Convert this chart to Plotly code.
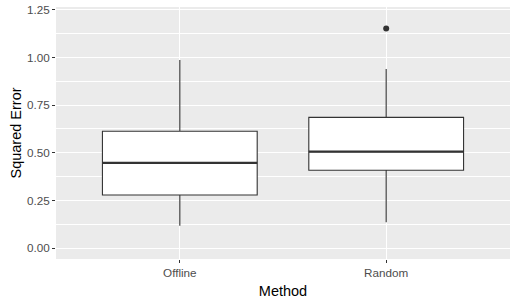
import plotly.graph_objects as go

methods = ["Offline", "Random"]
positions = [1, 2]
lower_whisker = [0.118, 0.136]
q1_vals = [0.279, 0.409]
median_vals = [0.448, 0.506]
q3_vals = [0.613, 0.686]
upper_whisker = [0.986, 0.939]
outlier_method = [2]
outlier_vals = [1.152]

y_ticks = [0.00, 0.25, 0.50, 0.75, 1.00, 1.25]
y_ticktext = ["0.00", "0.25", "0.50", "0.75", "1.00", "1.25"]

BOX_W = 0.75
DARK = "#333333"

fig = go.Figure()
for i, m in enumerate(methods):
    fig.add_trace(go.Box(
        x=[positions[i]], q1=[q1_vals[i]], median=[median_vals[i]], q3=[q3_vals[i]],
        lowerfence=[lower_whisker[i]], upperfence=[upper_whisker[i]],
        width=BOX_W, whiskerwidth=0, fillcolor="white",
        line=dict(color=DARK, width=1.1), name=m, showlegend=False,
        hoverinfo="skip",
    ))
    # thicker median line like ggplot
    fig.add_trace(go.Scatter(
        x=[positions[i] - BOX_W / 2, positions[i] + BOX_W / 2],
        y=[median_vals[i], median_vals[i]], mode="lines",
        line=dict(color=DARK, width=2.2), showlegend=False, hoverinfo="skip",
    ))

fig.add_trace(go.Scatter(
    x=outlier_method, y=outlier_vals, mode="markers",
    marker=dict(color=DARK, size=6), showlegend=False, hoverinfo="skip",
))

fig.update_layout(
    width=518, height=306,
    margin=dict(l=56, r=8, t=7, b=47),
    paper_bgcolor="white", plot_bgcolor="#EBEBEB",
    font=dict(family="Liberation Sans, Arial, sans-serif"),
    xaxis=dict(
        range=[0.4, 2.6], tickvals=positions, ticktext=methods,
        showgrid=True, gridcolor="white", gridwidth=1.1, zeroline=False,
        ticks="outside", ticklen=3, tickcolor=DARK, tickwidth=1,
        tickfont=dict(size=11.7, color="#4D4D4D"),
        title=dict(text="Method", font=dict(size=14.5, color="black"), standoff=7),
        showline=False, automargin=False,
    ),
    yaxis=dict(
        range=[-0.056, 1.264], tickvals=y_ticks, ticktext=y_ticktext,
        showgrid=True, gridcolor="white", gridwidth=1.1, zeroline=False,
        ticks="outside", ticklen=3, tickcolor=DARK, tickwidth=1,
        tickfont=dict(size=11.7, color="#4D4D4D"),
        title=dict(text="Squared Error", font=dict(size=14.5, color="black"), standoff=1),
        minor=dict(tickmode="array", tickvals=[0.125, 0.375, 0.625, 0.875, 1.125],
                   showgrid=True, gridcolor="white", gridwidth=0.55, ticks=""),
        showline=False, automargin=False,
    ),
)

fig.write_html("out.html", config={"displayModeBar": False},
               post_script="document.body.style.margin='0';")
